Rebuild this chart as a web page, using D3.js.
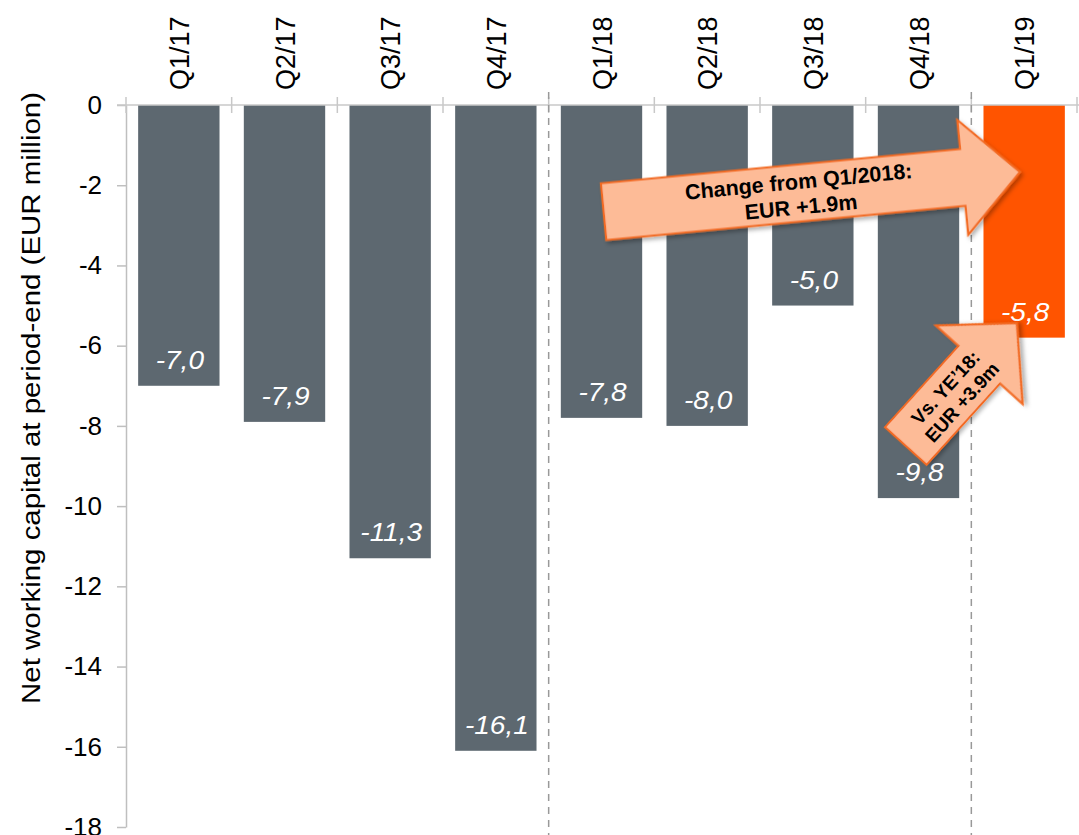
<!DOCTYPE html>
<html><head><meta charset="utf-8">
<script src="https://cdn.jsdelivr.net/npm/d3@7"></script>
<style>body{margin:0;background:#fff;overflow:hidden;} text{font-family:"Liberation Sans",Arial,Helvetica,sans-serif;}</style>
</head><body><svg id="chart" width="1079" height="835"></svg>
<script>
const categories = ["Q1/17","Q2/17","Q3/17","Q4/17","Q1/18","Q2/18","Q3/18","Q4/18","Q1/19"];
const values = [-7.0,-7.9,-11.3,-16.1,-7.8,-8.0,-5.0,-9.8,-5.8];
const valueLabels = ["-7,0","-7,9","-11,3","-16,1","-7,8","-8,0","-5,0","-9,8","-5,8"];
const yTicks = [0,-2,-4,-6,-8,-10,-12,-14,-16,-18];
const highlight = ["Q1/19"];
const separators = [4, 8];
const yTitle = "Net working capital at period-end (EUR million)";
const bigArrowText = ["Change from Q1/2018:", "EUR +1.9m"];
const smallArrowText = ["Vs. YE\u201918:", "EUR +3.9m"];
// annotation anchors in (band index, value) space
const bigArrowTail = [4.52, -2.66], bigArrowTip = [8.46, -1.67];
const smallArrowTail = [7.38, -8.50], smallArrowTip = [8.43, -5.44];

const svg = d3.select("#chart");
const defs = svg.append("defs");
const f = defs.append("filter").attr("id","shadow").attr("x","-20%").attr("y","-20%").attr("width","140%").attr("height","140%");
f.append("feDropShadow").attr("dx",2).attr("dy",3).attr("stdDeviation",2).attr("flood-color","#000").attr("flood-opacity",0.3);

const x = d3.scaleBand().domain(categories).range([126,1077]).paddingInner(0.23).paddingOuter(0.115);
const y = d3.scaleLinear().domain([-18,0]).range([827,105]);
const bw = x.bandwidth(), step = x.step();
const bPos = i => x(categories[0]) - (step - bw)/2 + i*step;

// bars
svg.append("g").selectAll("rect").data(categories).join("rect")
  .attr("x", c => x(c)).attr("y", y(0)).attr("width", bw)
  .attr("height", (c,i) => y(values[i]) - y(0))
  .attr("fill", c => highlight.includes(c) ? "#ff5400" : "#5d6870");

// y axis
const yAxis = d3.axisLeft(y).tickValues(yTicks).tickSize(9).tickSizeOuter(0).tickPadding(15).tickFormat(d => String(d));
const ga = svg.append("g").attr("transform","translate(126,0)").call(yAxis);
ga.select(".domain").attr("stroke","#bfbfbf").attr("stroke-width",1.5);
ga.selectAll(".tick line").attr("stroke","#bfbfbf").attr("stroke-width",1.5);
ga.selectAll(".tick text").attr("font-size",26).attr("fill","#000").attr("font-family",'"Liberation Sans",Arial,sans-serif');

// zero line with category boundary ticks
svg.append("line").attr("x1",117).attr("x2",1079).attr("y1",y(0)).attr("y2",y(0)).attr("stroke","#c8c8c8").attr("stroke-width",1.5);
svg.append("g").selectAll("line").data(d3.range(categories.length+1)).join("line")
  .attr("x1", i => bPos(i)).attr("x2", i => bPos(i))
  .attr("y1", y(0)-8).attr("y2", y(0)+8)
  .attr("stroke","#c8c8c8").attr("stroke-width",1.5);

// category labels (top, rotated)
svg.append("g").selectAll("text").data(categories).join("text")
  .attr("transform", c => `translate(${x(c)+bw/2+10},90) rotate(-90)`)
  .attr("text-anchor","start").attr("font-size",27).attr("fill","#000")
  .text(c => c);

// y title
svg.append("text").attr("transform","translate(40,398) rotate(-90)")
  .attr("text-anchor","middle").attr("font-size",25).attr("fill","#000")
  .attr("textLength",612).attr("lengthAdjust","spacingAndGlyphs")
  .text(yTitle);

// value labels
svg.append("g").selectAll("text").data(categories).join("text")
  .attr("transform", (c,i) => `translate(${x(c)+bw/2+1},${y(values[i])-17}) scale(1.12,1)`)
  .attr("text-anchor","middle").attr("font-size",25).attr("font-style","italic").attr("fill","#fff")
  .text((c,i) => valueLabels[i]);

// dashed separators
svg.append("g").selectAll("line").data(separators).join("line")
  .attr("x1", i => bPos(i)).attr("x2", i => bPos(i))
  .attr("y1", 92).attr("y2", 835)
  .attr("stroke","#999").attr("stroke-width",1.5).attr("stroke-dasharray","7,6");

function drawArrow(tail, tip, shaftHalf, headHalf, headLen, lines, fontSize, along, baselines) {
  const tx = bPos(tail[0]), ty = y(tail[1]);
  const px = bPos(tip[0]), py = y(tip[1]);
  const L = Math.hypot(px-tx, py-ty);
  const ang = Math.atan2(py-ty, px-tx)*180/Math.PI;
  const g = svg.append("g").attr("transform", `translate(${tx},${ty}) rotate(${ang})`);
  const pts = [[0,-shaftHalf],[L-headLen,-shaftHalf],[L-headLen,-headHalf],[L,0],[L-headLen,headHalf],[L-headLen,shaftHalf],[0,shaftHalf]];
  g.append("path").attr("d", d3.line()(pts) + "Z")
    .attr("fill","#fdbb97").attr("stroke","#f26a22").attr("stroke-width",2.2)
    .attr("stroke-linejoin","miter").attr("filter","url(#shadow)");
  g.selectAll("text").data(lines).join("text")
    .attr("x", along).attr("y", (d,i) => baselines[i])
    .attr("text-anchor","middle").attr("font-size",fontSize).attr("font-weight","bold").attr("fill","#000")
    .text(d => d);
}
drawArrow(bigArrowTail, bigArrowTip, 28.5, 57.7, 57.4, bigArrowText, 21.5, 197, [-4.2, 21.4]);
drawArrow(smallArrowTail, smallArrowTip, 28, 58.5, 56, smallArrowText, 19, 70, [-3, 19]);
</script></body></html>
